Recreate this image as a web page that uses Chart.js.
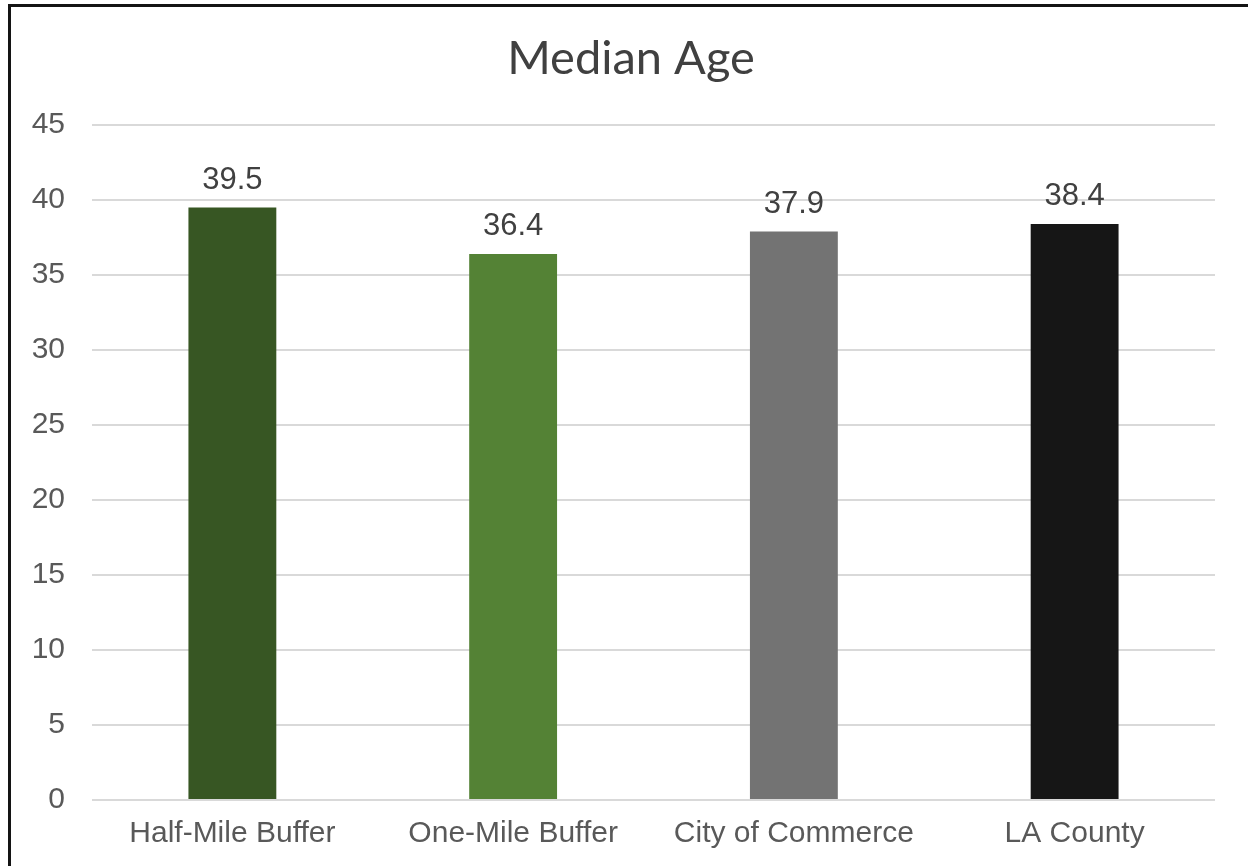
<!DOCTYPE html>
<html>
<head>
<meta charset="utf-8">
<script src="https://cdn.jsdelivr.net/npm/chart.js@4"></script>
<style>
  html, body { margin: 0; padding: 0; background: #fff; overflow: hidden; }
  #wrap { position: relative; width: 1248px; height: 866px; }
  #myChart { display: block; }
  #frame {
    position: absolute; left: 8px; top: 4px; width: 2000px; height: 2000px;
    border-top: 3px solid #141414; border-left: 3px solid #141414;
    pointer-events: none;
  }
</style>
</head>
<body>
<div id="wrap">
  <canvas id="myChart" width="1248" height="866"></canvas>
  <div id="frame"></div>
</div>
<script>
// Median Age bar chart

const chartTitle = "Median Age";
const categories = ["Half-Mile Buffer", "One-Mile Buffer", "City of Commerce", "LA County"];
const medianAge = [39.5, 36.4, 37.9, 38.4];
const barColors = ["#375623", "#548235", "#737373", "#161616"];
const yTicks = [0, 5, 10, 15, 20, 25, 30, 35, 40, 45];

// title centred on the framed area, not on the plot box
const titleText = {
  id: "titleText",
  afterDraw(chart) {
    const c = chart.ctx;
    c.save();
    c.font = '47px Lato, "Open Sans", sans-serif';
    c.fillStyle = "#404040";
    c.textAlign = "center";
    c.textBaseline = "alphabetic";
    c.fillText(chartTitle, (8 + chart.width) / 2 + 3, 74);
    c.restore();
  },
};

// draws the value above each bar
const valueLabels = {
  id: "valueLabels",
  afterDatasetsDraw(chart) {
    const c = chart.ctx;
    const meta = chart.getDatasetMeta(0);
    c.save();
    c.font = '31px "Liberation Sans", Arial, sans-serif';
    c.fillStyle = "#404040";
    c.textAlign = "center";
    c.textBaseline = "alphabetic";
    meta.data.forEach((bar, i) => {
      c.fillText(medianAge[i].toFixed(1), bar.x, bar.y - 19);
    });
    c.restore();
  },
};

const ctx = document.getElementById("myChart");
const myChart = new Chart(ctx, {
  type: "bar",
  data: {
    labels: categories,
    datasets: [
      {
        label: "Median Age",
        data: medianAge,
        backgroundColor: barColors,
        categoryPercentage: 1,
        barPercentage: 0.313,
      },
    ],
  },
  options: {
    responsive: false,
    animation: false,
    devicePixelRatio: 1,
    layout: {
      padding: { top: 125, left: 0, right: 33, bottom: 0 },
    },
    plugins: {
      legend: { display: false },
      tooltip: { enabled: false },
      title: { display: false },
    },
    scales: {
      x: {
        grid: { display: false, drawTicks: false },
        border: { display: false },
        ticks: {
          color: "#595959",
          font: { family: "'Liberation Sans', Arial, sans-serif", size: 30 },
          padding: 16,
        },
        afterFit(scale) {
          scale.height = 66;
        },
      },
      y: {
        min: 0,
        max: 45,
        afterBuildTicks(scale) {
          scale.ticks = yTicks.map((v) => ({ value: v }));
        },
        grid: { color: "#d9d9d9", lineWidth: 2, drawTicks: false },
        border: { display: false },
        ticks: {
          color: "#595959",
          font: { family: "'Liberation Sans', Arial, sans-serif", size: 30 },
          padding: 27,
        },
        afterFit(scale) {
          scale.width = 92;
        },
      },
    },
  },
  plugins: [valueLabels, titleText],
});
</script>
</body>
</html>
